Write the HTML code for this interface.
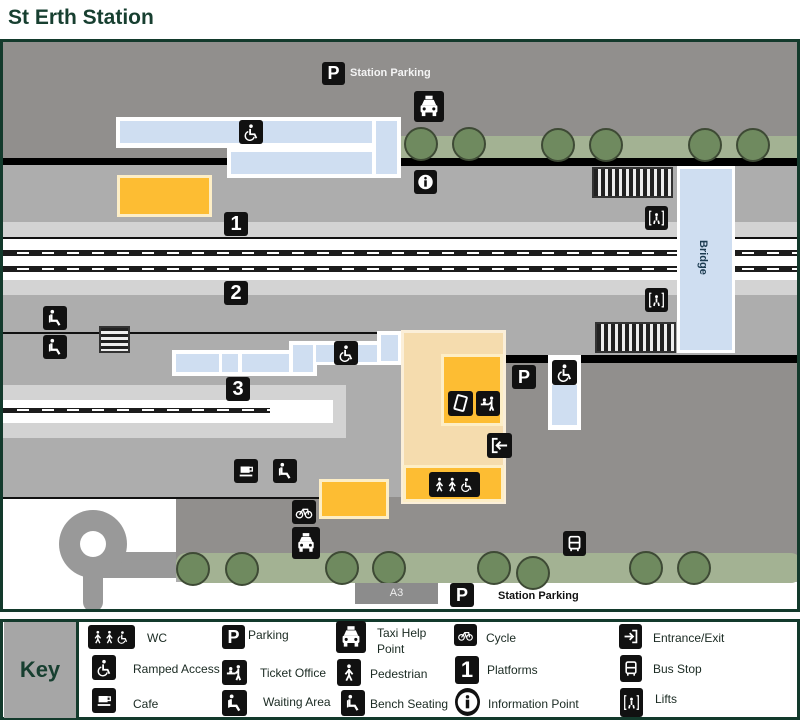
<!DOCTYPE html>
<html><head><meta charset="utf-8"><style>
*{margin:0;padding:0;box-sizing:border-box}
body{width:800px;height:720px;background:#fff;position:relative;overflow:hidden;font-family:"Liberation Sans",sans-serif}
div{position:absolute}
svg{display:block;width:100%;height:100%}
.ic{background:#111;border-radius:3px;color:#fff;font-weight:bold;text-align:center;font-family:"Liberation Sans",sans-serif;overflow:hidden;padding:3px}
.t{padding:0}
.blue{background:#cfdef1}
.wb{background:#fff}
.tree{width:34px;height:34px;border-radius:50%;background:#6f8a5f;border:2px solid #3e4a35}
.org{background:#fdbd33;border:3px solid #fdeec6}
.kt{font-size:12px;color:#1a2a22;font-family:"Liberation Sans",sans-serif}
</style></head><body>
<svg width="0" height="0" style="position:absolute">
<defs>
<g id="wc"><circle cx="10" cy="3.5" r="2" fill="#fff"/><path d="M9 6.5v6h5l2 4.5" stroke="#fff" stroke-width="2" fill="none"/><path d="M7 9.5a5 5 0 1 0 6.5 6" stroke="#fff" stroke-width="1.6" fill="none"/></g>
<g id="taxi"><rect x="7" y="1" width="6" height="3" fill="#fff"/><path d="M4 9l2-4.5h8l2 4.5z" fill="#fff"/><rect x="3" y="9" width="14" height="6" rx="1" fill="#fff"/><rect x="4" y="15" width="3" height="3" fill="#fff"/><rect x="13" y="15" width="3" height="3" fill="#fff"/><circle cx="6" cy="12" r="1.3" fill="#111"/><circle cx="14" cy="12" r="1.3" fill="#111"/></g>
<g id="bike"><circle cx="5" cy="13" r="3.5" stroke="#fff" stroke-width="1.5" fill="none"/><circle cx="15" cy="13" r="3.5" stroke="#fff" stroke-width="1.5" fill="none"/><path d="M5 13l4-6h5l1 6M9 7l2 6" stroke="#fff" stroke-width="1.5" fill="none"/></g>
<g id="cup"><rect x="4" y="5" width="10" height="7" fill="#fff"/><rect x="13" y="6" width="4" height="4" stroke="#fff" stroke-width="1.5" fill="none"/><rect x="3" y="14" width="14" height="2" fill="#fff"/></g>
<g id="bench"><circle cx="7" cy="3" r="2" fill="#fff"/><path d="M6 6v7h6l3 5" stroke="#fff" stroke-width="2.5" fill="none"/><path d="M4 7v8" stroke="#fff" stroke-width="1.5"/></g>
<g id="person"><circle cx="10" cy="3" r="2" fill="#fff"/><path d="M10 6v7M10 13l-3 6M10 13l3 6M10 7l-4 5M10 7l4 5" stroke="#fff" stroke-width="2" fill="none"/></g>
<g id="bus"><rect x="4" y="2" width="12" height="14" rx="2" stroke="#fff" stroke-width="2" fill="none"/><path d="M4 9h12" stroke="#fff" stroke-width="2"/><rect x="5" y="16" width="2" height="3" fill="#fff"/><rect x="13" y="16" width="2" height="3" fill="#fff"/></g>
<g id="lift"><path d="M4 2H2v16h2M16 2h2v16h-2" stroke="#fff" stroke-width="1.5" fill="none"/><circle cx="10" cy="6" r="1.7" fill="#fff"/><path d="M10 8v5M8 13l-1 4M12 13l1 4" stroke="#fff" stroke-width="2"/></g>
<g id="exit"><path d="M8 3H3v14h5" stroke="#fff" stroke-width="2" fill="none"/><path d="M18 10H8M11 6l-4 4 4 4" stroke="#fff" stroke-width="2" fill="none"/></g>
<g id="entr"><path d="M12 3h5v14h-5" stroke="#fff" stroke-width="2" fill="none"/><path d="M3 10h10M9 6l4 4-4 4" stroke="#fff" stroke-width="2" fill="none"/></g>
<g id="info"><circle cx="10" cy="10" r="8.5" fill="#fff"/><circle cx="10" cy="5.5" r="1.5" fill="#111"/><rect x="8.5" y="8" width="3" height="7.5" fill="#111"/></g>
<g id="ticket"><rect x="2" y="10" width="9" height="2" fill="#fff"/><circle cx="6" cy="6" r="1.8" fill="#fff"/><rect x="4.5" y="8" width="3" height="2" fill="#fff"/><circle cx="14" cy="4" r="1.8" fill="#fff"/><path d="M14 6v7M14 13l-2 5M14 13l2 5M14 8l-3 3" stroke="#fff" stroke-width="2" fill="none"/></g>
<g id="card"><rect x="5" y="2" width="10" height="15" rx="1" transform="rotate(15 10 10)" stroke="#fff" stroke-width="2" fill="none"/></g>
</defs></svg>
<div style="left:8px;top:6px;font-size:21px;font-weight:bold;color:#173f30">St Erth Station</div>
<!-- frame -->
<div style="left:0;top:39px;width:800px;height:573px;border:3px solid #133a2c;background:#adadad;overflow:hidden">
 <div style="left:0;top:0;width:800px;height:119px;background:#918f8d"></div>
 <div style="left:0;top:116px;width:230px;height:7px;background:#000"></div>
 <div style="left:397px;top:94px;width:400px;height:22px;background:#a3b293"></div>
 <div style="left:397px;top:116px;width:400px;height:8px;background:#000"></div>
 <div style="left:0;top:180px;width:800px;height:15px;background:#d3d3d3"></div>
 <div style="left:0;top:195px;width:800px;height:43px;background:#fff;border-top:2px solid #111"></div>
 <div style="left:0;top:208px;width:800px;height:6px;background:#1c1c1c"></div>
 <div style="left:14px;top:210px;width:786px;height:2px;background:repeating-linear-gradient(90deg,#fff 0 12px,#1c1c1c 12px 25px)"></div>
 <div style="left:0;top:224px;width:800px;height:6px;background:#1c1c1c"></div>
 <div style="left:14px;top:226px;width:786px;height:2px;background:repeating-linear-gradient(90deg,#fff 0 12px,#1c1c1c 12px 25px)"></div>
 <div style="left:0;top:238px;width:800px;height:15px;background:#d3d3d3"></div>
 <div style="left:0;top:290px;width:378px;height:2px;background:#111"></div>
 <div style="left:502px;top:313px;width:298px;height:8px;background:#000"></div>
 <div style="left:502px;top:321px;width:298px;height:200px;background:#918f8d"></div>
 <div style="left:173px;top:455px;width:330px;height:70px;background:#918f8d"></div>
 <div style="left:0;top:455px;width:350px;height:2px;background:#111"></div>
 <div style="left:0;top:457px;width:173px;height:110px;background:#fff"></div>
 <div style="left:173px;top:540px;width:630px;height:30px;background:#fff"></div>
 <div style="left:0;top:343px;width:343px;height:53px;background:#d3d3d3"></div>
 <div style="left:0;top:358px;width:330px;height:23px;background:#fff"></div>
 <div style="left:0;top:366px;width:267px;height:5px;background:#1c1c1c"></div>
 <div style="left:14px;top:367px;width:253px;height:2px;background:repeating-linear-gradient(90deg,#fff 0 12px,#1c1c1c 12px 25px)"></div>
 <div style="left:89px;top:510px;width:84px;height:26px;background:#999"></div>
 <div style="left:80px;top:510px;width:20px;height:60px;background:#999;border-radius:10px"></div>
 <div style="left:56px;top:468px;width:68px;height:68px;border-radius:50%;background:#999"></div>
 <div style="left:77px;top:489px;width:26px;height:26px;border-radius:50%;background:#fff"></div>
 <div style="left:173px;top:511px;width:625px;height:30px;background:#a3b293;border-radius:10px"></div>
</div>
<!-- top platforms -->
<div class="wb" style="left:116px;top:117px;width:285px;height:31px"></div>
<div class="blue" style="left:120px;top:121px;width:252px;height:22px"></div>
<div class="wb" style="left:227px;top:146px;width:174px;height:32px"></div>
<div class="blue" style="left:231px;top:152px;width:141px;height:22px"></div>
<div class="blue" style="left:376px;top:121px;width:21px;height:53px"></div>
<div class="org" style="left:117px;top:175px;width:95px;height:42px"></div>
<!-- bridge -->
<div class="wb" style="left:677px;top:166px;width:58px;height:187px"></div>
<div class="blue" style="left:680px;top:169px;width:52px;height:181px"></div>
<div style="left:697px;top:240px;font-size:11px;font-weight:bold;color:#1b3a50;writing-mode:vertical-rl">Bridge</div>
<!-- crosswalks -->
<div style="left:592px;top:167px;width:81px;height:31px;background:repeating-linear-gradient(90deg,#222 0 4px,#eee 4px 7px);border:2px solid #333"></div>
<div style="left:595px;top:322px;width:81px;height:31px;background:repeating-linear-gradient(90deg,#222 0 4px,#eee 4px 7px);border:2px solid #333"></div>
<div style="left:99px;top:326px;width:31px;height:27px;background:repeating-linear-gradient(180deg,#222 0 3px,#eee 3px 6px);border:2px solid #333"></div>
<!-- platform 3 structures -->
<div class="wb" style="left:172px;top:350px;width:145px;height:26px"></div>
<div class="blue" style="left:176px;top:354px;width:43px;height:18px"></div>
<div class="blue" style="left:222px;top:354px;width:16px;height:18px"></div>
<div class="blue" style="left:242px;top:354px;width:47px;height:18px"></div>
<div class="wb" style="left:289px;top:341px;width:28px;height:35px"></div>
<div class="blue" style="left:293px;top:345px;width:20px;height:27px"></div>
<div class="wb" style="left:313px;top:341px;width:68px;height:24px"></div>
<div class="blue" style="left:316px;top:345px;width:61px;height:17px"></div>
<div class="wb" style="left:377px;top:331px;width:25px;height:34px"></div>
<div class="blue" style="left:381px;top:335px;width:17px;height:26px"></div>
<!-- building -->
<div style="left:401px;top:330px;width:105px;height:174px;background:#f5dcae;border:3px solid #fbefd9"></div>
<div class="org" style="left:441px;top:354px;width:62px;height:72px"></div>
<div class="org" style="left:403px;top:465px;width:101px;height:37px"></div>
<div class="org" style="left:319px;top:479px;width:70px;height:40px"></div>
<div class="wb" style="left:548px;top:355px;width:33px;height:75px"></div>
<div class="blue" style="left:552px;top:385px;width:25px;height:40px"></div>
<!-- trees -->
<div class="tree" style="left:404px;top:127px"></div><div class="tree" style="left:452px;top:127px"></div>
<div class="tree" style="left:541px;top:128px"></div><div class="tree" style="left:589px;top:128px"></div>
<div class="tree" style="left:688px;top:128px"></div><div class="tree" style="left:736px;top:128px"></div>
<div class="tree" style="left:176px;top:552px"></div><div class="tree" style="left:225px;top:552px"></div>
<div class="tree" style="left:325px;top:551px"></div><div class="tree" style="left:372px;top:551px"></div>
<div class="tree" style="left:477px;top:551px"></div><div class="tree" style="left:516px;top:556px"></div>
<div class="tree" style="left:629px;top:551px"></div><div class="tree" style="left:677px;top:551px"></div>
<div style="left:355px;top:583px;width:83px;height:21px;background:#8c8c8c;color:#eee;font-size:11px;text-align:center;line-height:21px">A3</div>
<!-- icons -->
<div class="ic t" style="left:322px;top:62px;width:23px;height:23px;font-size:18px;line-height:23px">P</div>
<div style="left:350px;top:67px;font-size:11px;font-weight:bold;color:#f4f4f4">Station Parking</div>
<div class="ic" style="left:414px;top:91px;width:30px;height:31px"><svg viewBox="0 0 20 20"><use href="#taxi"/></svg></div>
<div class="ic" style="left:239px;top:120px;width:24px;height:24px"><svg viewBox="0 0 20 20"><use href="#wc"/></svg></div>
<div class="ic" style="left:414px;top:170px;width:23px;height:24px"><svg viewBox="0 0 20 20"><use href="#info"/></svg></div>
<div class="ic t" style="left:224px;top:212px;width:24px;height:24px;font-size:20px;line-height:24px">1</div>
<div class="ic t" style="left:224px;top:281px;width:24px;height:24px;font-size:20px;line-height:24px">2</div>
<div class="ic t" style="left:226px;top:377px;width:24px;height:24px;font-size:20px;line-height:24px">3</div>
<div class="ic" style="left:645px;top:206px;width:23px;height:24px"><svg viewBox="0 0 20 20"><use href="#lift"/></svg></div>
<div class="ic" style="left:645px;top:288px;width:23px;height:24px"><svg viewBox="0 0 20 20"><use href="#lift"/></svg></div>
<div class="ic" style="left:43px;top:306px;width:24px;height:24px"><svg viewBox="0 0 20 20"><use href="#bench"/></svg></div>
<div class="ic" style="left:43px;top:335px;width:24px;height:24px"><svg viewBox="0 0 20 20"><use href="#bench"/></svg></div>
<div class="ic" style="left:334px;top:341px;width:24px;height:24px"><svg viewBox="0 0 20 20"><use href="#wc"/></svg></div>
<div class="ic" style="left:448px;top:391px;width:25px;height:25px"><svg viewBox="0 0 20 20"><use href="#card"/></svg></div>
<div class="ic" style="left:476px;top:391px;width:24px;height:25px"><svg viewBox="0 0 20 20"><use href="#ticket"/></svg></div>
<div class="ic" style="left:487px;top:433px;width:25px;height:25px"><svg viewBox="0 0 20 20"><use href="#exit"/></svg></div>
<div class="ic" style="left:429px;top:472px;width:51px;height:25px"><svg viewBox="0 0 60 20"><use href="#person"/><use href="#person" x="17"/><use href="#wc" x="36"/></svg></div>
<div class="ic t" style="left:512px;top:365px;width:24px;height:24px;font-size:18px;line-height:24px">P</div>
<div class="ic" style="left:552px;top:360px;width:25px;height:25px"><svg viewBox="0 0 20 20"><use href="#wc"/></svg></div>
<div class="ic" style="left:234px;top:459px;width:24px;height:24px"><svg viewBox="0 0 20 20"><use href="#cup"/></svg></div>
<div class="ic" style="left:273px;top:459px;width:24px;height:24px"><svg viewBox="0 0 20 20"><use href="#bench"/></svg></div>
<div class="ic" style="left:292px;top:500px;width:24px;height:24px"><svg viewBox="0 0 20 20"><use href="#bike"/></svg></div>
<div class="ic" style="left:292px;top:527px;width:28px;height:32px"><svg viewBox="0 0 20 20"><use href="#taxi"/></svg></div>
<div class="ic" style="left:563px;top:531px;width:23px;height:25px"><svg viewBox="0 0 20 20"><use href="#bus"/></svg></div>
<div class="ic t" style="left:450px;top:583px;width:24px;height:24px;font-size:18px;line-height:24px">P</div>
<div style="left:498px;top:590px;font-size:11px;font-weight:bold;color:#111">Station Parking</div>
<!-- key -->
<div style="left:0;top:619px;width:800px;height:101px;border:3px solid #133a2c;background:#fff"></div>
<div style="left:4px;top:622px;width:72px;height:96px;background:#a6a6a6;color:#173f30;font-size:22px;font-weight:bold;text-align:center;line-height:96px">Key</div>
<div style="left:76px;top:622px;width:3px;height:96px;background:#133a2c"></div>
<div class="ic" style="left:88px;top:625px;width:47px;height:24px"><svg viewBox="0 0 60 20"><use href="#person"/><use href="#person" x="17"/><use href="#wc" x="36"/></svg></div>
<div class="kt" style="left:147px;top:631px">WC</div>
<div class="ic" style="left:92px;top:655px;width:24px;height:25px"><svg viewBox="0 0 20 20"><use href="#wc"/></svg></div>
<div class="kt" style="left:133px;top:662px">Ramped Access</div>
<div class="ic" style="left:92px;top:688px;width:24px;height:25px"><svg viewBox="0 0 20 20"><use href="#cup"/></svg></div>
<div class="kt" style="left:133px;top:697px">Cafe</div>
<div class="ic t" style="left:222px;top:625px;width:23px;height:24px;font-size:18px;line-height:24px">P</div>
<div class="kt" style="left:248px;top:628px">Parking</div>
<div class="ic" style="left:222px;top:660px;width:25px;height:25px"><svg viewBox="0 0 20 20"><use href="#ticket"/></svg></div>
<div class="kt" style="left:260px;top:666px">Ticket Office</div>
<div class="ic" style="left:222px;top:690px;width:25px;height:26px"><svg viewBox="0 0 20 20"><use href="#bench"/></svg></div>
<div class="kt" style="left:263px;top:695px">Waiting Area</div>
<div class="ic" style="left:336px;top:621px;width:30px;height:32px"><svg viewBox="0 0 20 20"><use href="#taxi"/></svg></div>
<div class="kt" style="left:377px;top:625px;line-height:16px">Taxi Help<br>Point</div>
<div class="ic" style="left:337px;top:659px;width:24px;height:27px"><svg viewBox="0 0 20 20"><use href="#person"/></svg></div>
<div class="kt" style="left:370px;top:667px">Pedestrian</div>
<div class="ic" style="left:341px;top:690px;width:24px;height:26px"><svg viewBox="0 0 20 20"><use href="#bench"/></svg></div>
<div class="kt" style="left:370px;top:697px">Bench Seating</div>
<div class="ic" style="left:454px;top:624px;width:23px;height:22px"><svg viewBox="0 0 20 20"><use href="#bike"/></svg></div>
<div class="kt" style="left:486px;top:631px">Cycle</div>
<div class="ic t" style="left:455px;top:656px;width:24px;height:28px;font-size:22px;line-height:28px">1</div>
<div class="kt" style="left:487px;top:663px">Platforms</div>
<div class="ic t" style="left:455px;top:688px;width:25px;height:28px;border-radius:50%;padding:1px"><svg viewBox="0 0 20 20"><use href="#info"/></svg></div>
<div class="kt" style="left:488px;top:697px">Information Point</div>
<div class="ic" style="left:619px;top:624px;width:23px;height:25px"><svg viewBox="0 0 20 20"><use href="#entr"/></svg></div>
<div class="kt" style="left:653px;top:631px">Entrance/Exit</div>
<div class="ic" style="left:620px;top:655px;width:22px;height:27px"><svg viewBox="0 0 20 20"><use href="#bus"/></svg></div>
<div class="kt" style="left:653px;top:662px">Bus Stop</div>
<div class="ic" style="left:620px;top:688px;width:23px;height:29px"><svg viewBox="0 0 20 20"><use href="#lift"/></svg></div>
<div class="kt" style="left:655px;top:692px">Lifts</div>
</body></html>
